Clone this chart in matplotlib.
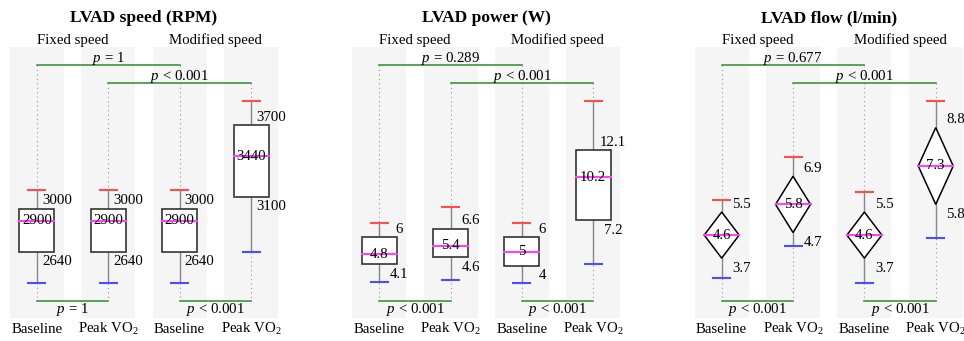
import matplotlib
matplotlib.use("Agg")
from matplotlib import pyplot as plt
from matplotlib.patches import Rectangle, Polygon

plt.rcParams['font.family'] = ['Liberation Serif', 'DejaVu Serif']
plt.rcParams['mathtext.fontset'] = 'custom'
plt.rcParams['mathtext.rm'] = 'Liberation Serif'
plt.rcParams['mathtext.it'] = 'Liberation Serif:italic'

columns = ['Baseline', 'Peak VO$_2$', 'Baseline', 'Peak VO$_2$']
groups = ['Fixed speed', 'Modified speed']

# LVAD speed (RPM)
speed_hi = [3000, 3000, 3000, 3700]
speed_mid = [2900, 2900, 2900, 3440]
speed_lo = [2640, 2640, 2640, 3100]
speed_max = [3160, 3160, 3160, 3900]
speed_min = [2380, 2380, 2380, 2640]
speed_p_top = ['$p$ = 1', '$p$ < 0.001']
speed_p_bottom = ['$p$ = 1', '$p$ < 0.001']

# LVAD power (W)
power_hi = [6, 6.6, 6, 12.1]
power_mid = [4.8, 5.4, 5, 10.2]
power_lo = [4.1, 4.6, 4, 7.2]
power_max = [7.03, 8.1, 7.03, 15.55]
power_min = [2.9, 3.0, 2.8, 4.1]
power_p_top = ['$p$ = 0.289', '$p$ < 0.001']
power_p_bottom = ['$p$ < 0.001', '$p$ < 0.001']

# LVAD flow (l/min)
flow_hi = [5.5, 6.9, 5.5, 8.8]
flow_mid = [4.6, 5.8, 4.6, 7.3]
flow_lo = [3.7, 4.7, 3.7, 5.8]
flow_max = [5.97, 7.66, 6.27, 9.84]
flow_min = [2.93, 4.18, 2.74, 4.5]
flow_p_top = ['$p$ = 0.677', '$p$ < 0.001']
flow_p_bottom = ['$p$ < 0.001', '$p$ < 0.001']

FS = 10.7
GREEN = '#2e8b2e'
BAND = 0.378
Y_TOP1, Y_TOP2, Y_BOT = 0.934, 0.866, 0.063


def draw_panel(ax, title, hi, mid, lo, vmax, vmin, p_top, p_bottom, ylim, diamond=False):
    ax.set_xlim(-BAND, 3 + BAND)
    ax.set_ylim(*ylim)
    ax.axis('off')
    tr = ax.get_xaxis_transform()

    for i in range(4):
        ax.axvspan(i - BAND, i + BAND, color='#f5f5f5', zorder=0, lw=0)
        # dotted guide from bracket down to the bottom bracket
        top = Y_TOP1 if i % 2 == 0 else Y_TOP2
        ax.plot([i, i], [top, Y_BOT], transform=tr, ls=(0, (1, 3)), color='#999999', lw=0.8, zorder=1)
        ax.plot([i, i], [vmin[i], vmax[i]], color='#888888', lw=1.0, zorder=2)
        ax.plot([i - 0.119, i + 0.119], [vmax[i], vmax[i]], color='#ff4d4d', lw=1.5, zorder=3)
        ax.plot([i - 0.119, i + 0.119], [vmin[i], vmin[i]], color='#4d4dff', lw=1.5, zorder=3)
        if diamond:
            shape = Polygon([(i - 0.245, mid[i]), (i, hi[i]), (i + 0.245, mid[i]), (i, lo[i])],
                            closed=True, facecolor='white', edgecolor='black', lw=1.1, zorder=4)
        else:
            shape = Rectangle((i - 0.245, lo[i]), 0.49, hi[i] - lo[i],
                              facecolor='white', edgecolor='#333333', lw=1.2, zorder=4)
        ax.add_patch(shape)
        ax.plot([i - 0.245, i + 0.245], [mid[i], mid[i]], color='#ff40ff', lw=1.5, zorder=5)
        ax.text(i, mid[i], f"{mid[i]:g}", ha='center', va='center', fontsize=FS, zorder=6)
        ax.annotate(f"{hi[i]:g}", xy=(i, hi[i]), xytext=(20, 8), textcoords='offset pixels',
                    ha='center', va='center', fontsize=FS, annotation_clip=False)
        ax.annotate(f"{lo[i]:g}", xy=(i, lo[i]), xytext=(20, -10), textcoords='offset pixels',
                    ha='center', va='center', fontsize=FS, annotation_clip=False)
        ax.annotate(columns[i], xy=(i, 0), xycoords=tr, xytext=(0, -15), textcoords='offset pixels',
                    ha='center', va='baseline', fontsize=FS, annotation_clip=False)

    # brackets
    ax.plot([0, 2], [Y_TOP1, Y_TOP1], transform=tr, color=GREEN, lw=1.1, zorder=3)
    ax.plot([1, 3], [Y_TOP2, Y_TOP2], transform=tr, color=GREEN, lw=1.1, zorder=3)
    ax.plot([0, 1], [Y_BOT, Y_BOT], transform=tr, color=GREEN, lw=1.1, zorder=3)
    ax.plot([2, 3], [Y_BOT, Y_BOT], transform=tr, color=GREEN, lw=1.1, zorder=3)
    ax.annotate(p_top[0], xy=(1, Y_TOP1), xycoords=tr, xytext=(0, 6), textcoords='offset pixels',
                ha='center', va='center', fontsize=FS)
    ax.annotate(p_top[1], xy=(2, Y_TOP2), xycoords=tr, xytext=(0, 7), textcoords='offset pixels',
                ha='center', va='center', fontsize=FS)
    ax.annotate(p_bottom[0], xy=(0.5, Y_BOT), xycoords=tr, xytext=(0, -9), textcoords='offset pixels',
                ha='center', va='center', fontsize=FS)
    ax.annotate(p_bottom[1], xy=(2.5, Y_BOT), xycoords=tr, xytext=(0, -9), textcoords='offset pixels',
                ha='center', va='center', fontsize=FS)

    ax.annotate(groups[0], xy=(0.5, 1), xycoords=tr, xytext=(0, 3), textcoords='offset pixels',
                ha='center', va='baseline', fontsize=FS, annotation_clip=False)
    ax.annotate(groups[1], xy=(2.5, 1), xycoords=tr, xytext=(0, 3), textcoords='offset pixels',
                ha='center', va='baseline', fontsize=FS, annotation_clip=False)
    ax.annotate(title, xy=(1.5, 1), xycoords=tr, xytext=(0, 25), textcoords='offset pixels',
                ha='center', va='baseline', fontsize=12.5, fontweight='bold', annotation_clip=False)


fig = plt.figure(figsize=(9.64, 3.41), dpi=100)
W, H = 964.0, 341.0
lefts = [10, 352.3, 694.7]
axes = [fig.add_axes([l / W, 23 / H, 268 / W, 271 / H]) for l in lefts]

draw_panel(axes[0], 'LVAD speed (RPM)', speed_hi, speed_mid, speed_lo, speed_max, speed_min,
           speed_p_top, speed_p_bottom, (2088, 4354))
draw_panel(axes[1], 'LVAD power (W)', power_hi, power_mid, power_lo, power_max, power_min,
           power_p_top, power_p_bottom, (0.344, 19.35))
draw_panel(axes[2], 'LVAD flow (l/min)', flow_hi, flow_mid, flow_lo, flow_max, flow_min,
           flow_p_top, flow_p_bottom, (1.36, 11.95), diamond=True)

fig.savefig('out.png', dpi=100)
